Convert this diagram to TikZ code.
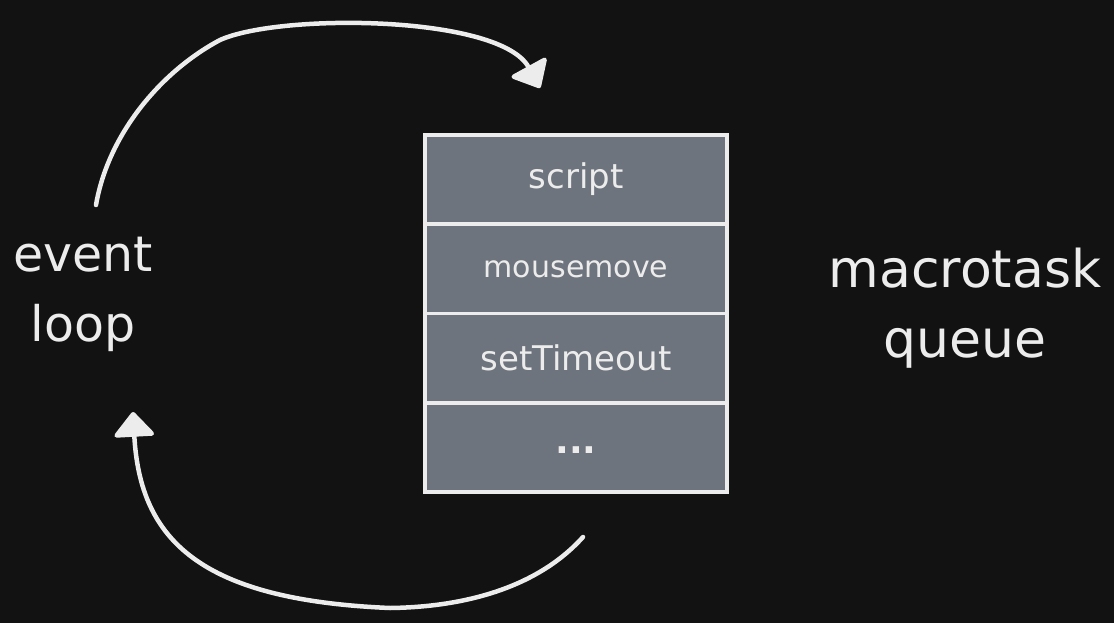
\documentclass[tikz,border=0pt]{standalone}
\usepackage{fontspec}
\setmainfont{DejaVu Sans}
\usetikzlibrary{arrows.meta}
\definecolor{bg}{RGB}{18,18,18}
\definecolor{ink}{RGB}{236,236,236}
\definecolor{cell}{RGB}{110,116,125}
\tikzset{
  qcell/.style={draw=ink, fill=cell, line width=3.5pt, minimum width=302pt,
    minimum height=89.25pt, inner sep=0pt, text=ink,
    font=\fontsize{34}{40}\selectfont},
  sidelabel/.style={text=ink, align=center, inner sep=0pt,
    font=\fontsize{50}{70}\selectfont},
  flow/.style={draw=ink, line width=4.5pt, line cap=round,
    -{Triangle[length=26pt,width=44pt,round]}}
}
\begin{document}
\begin{tikzpicture}[x=1pt,y=-1pt]
\fill[bg] (0,0) rectangle (1114,623);
\useasboundingbox (0,0) rectangle (1114,623);
\node[qcell] (r1) at (576,179.6) {script};
\node[qcell, font=\fontsize{30}{36}\selectfont] (r2) at (576,268.9) {mousemove};
\node[qcell] (r3) at (576,358.1) {setTimeout};
\node[qcell, font=\fontsize{36}{40}\selectfont\bfseries, text height=0pt, text depth=0pt] (r4) at (576,447.4) {\raisebox{-6pt}{...}};
\node[sidelabel, font=\fontsize{49}{70}\selectfont] (loop) at (83,294) {event\\loop};
\node[sidelabel, font=\fontsize{52}{70}\selectfont] (queue) at (965,308) {macrotask\\queue};
\coordinate (a1) at (96,205);
\coordinate (a2) at (220,40);
\coordinate (a3) at (540,88);
\coordinate (b1) at (583,537);
\coordinate (b2) at (390,608);
\coordinate (b3) at (133,412);
\draw[flow] (a1) .. controls (108,135) and (160,72) .. (a2)
  .. controls (280,13) and (500,15) .. (a3);
\draw[flow] (b1) .. controls (540,585) and (470,607) .. (b2)
  .. controls (200,600) and (140,540) .. (b3);
\end{tikzpicture}
\end{document}
